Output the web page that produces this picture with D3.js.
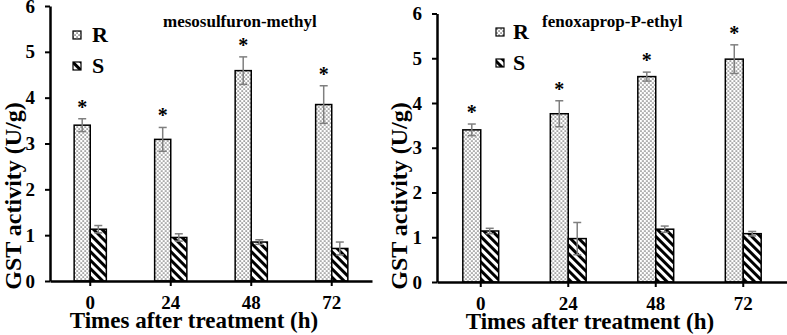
<!DOCTYPE html>
<html>
<head>
<meta charset="utf-8">
<script src="https://cdn.jsdelivr.net/npm/d3@7"></script>
<style>
  html, body { margin: 0; padding: 0; background: #fff; }
  svg { display: block; }
  text { font-family: "Liberation Serif", "Times New Roman", serif; font-weight: bold; fill: #000; }
</style>
</head>
<body>
<svg id="chart" width="787" height="335"></svg>
<script>
// ---- data ----
const times = ["0", "24", "48", "72"];
const yTicks = [0, 1, 2, 3, 4, 5, 6];
const seriesNames = ["R", "S"];

const mesoTitle = "mesosulfuron-methyl";
const mesoR = [3.40, 3.09, 4.59, 3.85];
const mesoRerr = [0.14, 0.26, 0.30, 0.41];
const mesoS = [1.13, 0.95, 0.85, 0.71];
const mesoSerr = [0.08, 0.08, 0.05, 0.14];

const fenoTitle = "fenoxaprop-P-ethyl";
const fenoR = [3.40, 3.76, 4.59, 4.98];
const fenoRerr = [0.13, 0.29, 0.10, 0.32];
const fenoS = [1.14, 0.97, 1.18, 1.08];
const fenoSerr = [0.06, 0.36, 0.07, 0.05];

const signif = ["*", "*", "*", "*"];

const yLabel = "GST activity (U/g)";
const xLabel = "Times after treatment (h)";

// ---- drawing ----
const svg = d3.select("#chart");
const defs = svg.append("defs");

// dotted pattern (R)
const dots = defs.append("pattern").attr("id", "dots")
  .attr("patternUnits", "userSpaceOnUse").attr("width", 4).attr("height", 4);
dots.append("rect").attr("width", 4).attr("height", 4).attr("fill", "#fff");
dots.append("rect").attr("x", 0.5).attr("y", 0.5).attr("width", 1.1).attr("height", 1.1).attr("fill", "#000");
dots.append("rect").attr("x", 2.5).attr("y", 2.5).attr("width", 1.1).attr("height", 1.1).attr("fill", "#000");

// striped pattern (S)
const stripes = defs.append("pattern").attr("id", "stripes")
  .attr("patternUnits", "userSpaceOnUse").attr("width", 6).attr("height", 6)
  .attr("patternTransform", "rotate(-45)");
stripes.append("rect").attr("width", 6).attr("height", 6).attr("fill", "#fff");
stripes.append("rect").attr("x", 0).attr("y", 0).attr("width", 3).attr("height", 6).attr("fill", "#000");

const fills = { R: "url(#dots)", S: "url(#stripes)" };

function panel(cfg) {
  const g = svg.append("g");
  const x = d3.scaleBand().domain(times).range([cfg.x0, cfg.x1]).padding(0);
  const y = d3.scaleLinear().domain([0, 6]).range([cfg.yb, cfg.yt]);
  const groupW = x.bandwidth() * cfg.groupFrac;
  const xs = d3.scaleBand().domain(seriesNames).range([0, groupW]).padding(0);

  const rows = times.map((t, i) => ({
    t, i,
    vals: [
      { s: "R", v: cfg.R[i], e: cfg.Rerr[i] },
      { s: "S", v: cfg.S[i], e: cfg.Serr[i] }
    ]
  }));

  const grp = g.selectAll("g.cat").data(rows).join("g")
    .attr("transform", d => `translate(${x(d.t) + (x.bandwidth() - groupW) / 2},0)`);

  grp.selectAll("rect.bar").data(d => d.vals).join("rect")
    .attr("x", d => xs(d.s)).attr("width", xs.bandwidth())
    .attr("y", d => y(d.v)).attr("height", d => y(0) - y(d.v))
    .attr("fill", d => fills[d.s]).attr("stroke", "#000").attr("stroke-width", 1.5);

  // error bars
  const eb = grp.selectAll("g.eb").data(d => d.vals).join("g")
    .attr("stroke", "#7f7f7f").attr("stroke-width", 1.5);
  eb.append("line")
    .attr("x1", d => xs(d.s) + xs.bandwidth() / 2).attr("x2", d => xs(d.s) + xs.bandwidth() / 2)
    .attr("y1", d => y(d.v - d.e)).attr("y2", d => y(d.v + d.e));
  eb.append("line")
    .attr("x1", d => xs(d.s) + xs.bandwidth() / 2 - 4).attr("x2", d => xs(d.s) + xs.bandwidth() / 2 + 4)
    .attr("y1", d => y(d.v + d.e)).attr("y2", d => y(d.v + d.e));
  eb.append("line")
    .attr("x1", d => xs(d.s) + xs.bandwidth() / 2 - 4).attr("x2", d => xs(d.s) + xs.bandwidth() / 2 + 4)
    .attr("y1", d => y(d.v - d.e)).attr("y2", d => y(d.v - d.e));

  // significance asterisks above R
  grp.append("text")
    .attr("x", xs("R") + xs.bandwidth() / 2)
    .attr("y", d => y(d.vals[0].v + d.vals[0].e) - 5)
    .attr("text-anchor", "middle").attr("font-size", 20)
    .text(d => signif[d.i]);

  // axes
  const ya = g.append("g").attr("transform", `translate(${cfg.x0},0)`)
    .call(d3.axisLeft(y).tickValues(yTicks).tickFormat(d3.format("d")).tickSize(5).tickSizeOuter(0).tickPadding(10));
  const xa = g.append("g").attr("transform", `translate(0,${cfg.yb})`)
    .call(d3.axisBottom(x).tickSize(5).tickSizeOuter(0).tickPadding(10));
  [ya, xa].forEach(a => {
    a.select(".domain").attr("stroke", "#000").attr("stroke-width", 2.5);
    a.selectAll(".tick line").attr("stroke", "#000").attr("stroke-width", 2);
    a.selectAll(".tick text").attr("font-size", 19)
      .attr("font-family", "'Liberation Serif','Times New Roman',serif").attr("font-weight", "bold").attr("fill", "#000");
  });

  // axis titles
  g.append("text")
    .attr("transform", `translate(${cfg.ylx},${cfg.ylc}) rotate(-90)`)
    .attr("text-anchor", "middle").attr("font-size", 24).text(yLabel);
  g.append("text")
    .attr("x", cfg.xlc).attr("y", cfg.yb + 47)
    .attr("text-anchor", "middle").attr("font-size", 23).text(xLabel);

  // panel title
  g.append("text").attr("x", cfg.tx).attr("y", cfg.ty)
    .attr("font-size", 17).text(cfg.title);

  // legend
  seriesNames.forEach((s, i) => {
    const ly = cfg.ly + i * cfg.lgap;
    g.append("rect").attr("x", cfg.lx).attr("y", ly).attr("width", 8).attr("height", 8)
      .attr("fill", fills[s]).attr("stroke", "#000").attr("stroke-width", 1.2);
    g.append("text").attr("x", cfg.lx + cfg.ltx).attr("y", ly + 11).attr("font-size", 22).text(s);
  });
}

panel({
  x0: 50, x1: 372, yb: 281, yt: 6, groupFrac: 0.4,
  R: mesoR, Rerr: mesoRerr, S: mesoS, Serr: mesoSerr,
  title: mesoTitle, tx: 163, ty: 27,
  lx: 73, ly: 31, lgap: 31, ltx: 19,
  ylx: 21, ylc: 196, xlc: 194
});

panel({
  x0: 437, x1: 787, yb: 282, yt: 13.5, groupFrac: 0.41,
  R: fenoR, Rerr: fenoRerr, S: fenoS, Serr: fenoSerr,
  title: fenoTitle, tx: 542, ty: 27,
  lx: 496, ly: 28, lgap: 31, ltx: 17,
  ylx: 407, ylc: 196, xlc: 590
});
</script>
</body>
</html>
